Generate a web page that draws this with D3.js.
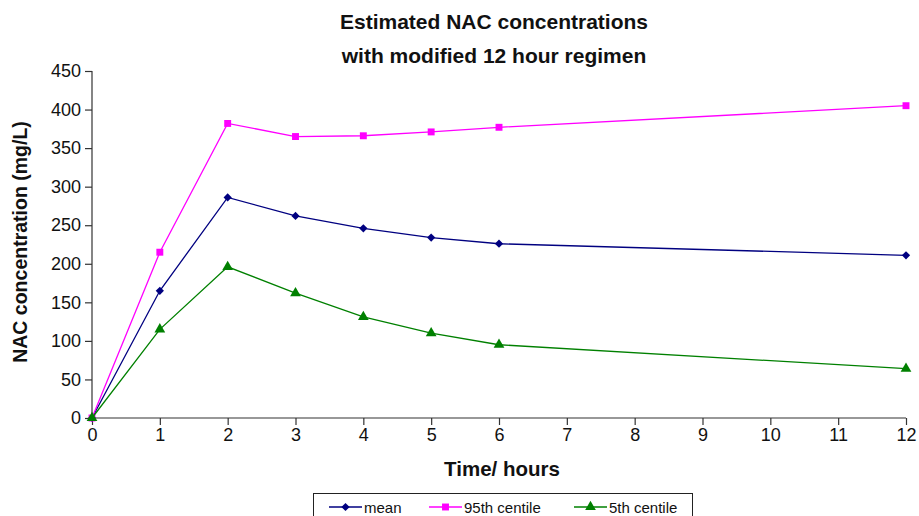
<!DOCTYPE html>
<html>
<head>
<meta charset="utf-8">
<script src="https://cdn.jsdelivr.net/npm/d3@7"></script>
<style>
  body { margin: 0; background: #fff; }
  svg text { font-family: "Liberation Sans", Arial, sans-serif; }
</style>
</head>
<body>
<div id="chart"></div>
<script>
const hours = [0, 1, 2, 3, 4, 5, 6, 12];
const meanValues = [0, 165, 286, 262, 246, 234, 226, 211];
const p95Values = [0, 215, 382, 365, 366, 371, 377, 405];
const p5Values = [0, 115, 196, 162, 131, 110, 95, 64];
const xTicks = [0, 1, 2, 3, 4, 5, 6, 7, 8, 9, 10, 11, 12];
const yTicks = [0, 50, 100, 150, 200, 250, 300, 350, 400, 450];

const series = [
    { name: "mean", values: meanValues, color: "#000080", symbol: d3.symbolSquare, size: 34, rot: 45 },
    { name: "95th centile", values: p95Values, color: "#ff00ff", symbol: d3.symbolSquare, size: 48, rot: 0 },
    { name: "5th centile", values: p5Values, color: "#008000", symbol: d3.symbolTriangle, size: 50, rot: 0 }
];

const width = 919, height = 516;
const margin = { left: 92, right: 13, top: 71, bottom: 98 };

const svg = d3.select("#chart").append("svg")
    .attr("width", width)
    .attr("height", height);

const x = d3.scaleLinear().domain([0, 12]).range([margin.left, width - margin.right]);
const y = d3.scaleLinear().domain([0, 450]).range([height - margin.bottom, margin.top]);

// axes
const xAxis = svg.append("g")
    .attr("transform", `translate(0,${y(0)})`)
    .call(d3.axisBottom(x).tickValues(xTicks).tickSize(7).tickPadding(3).tickFormat(d3.format("d")));
const yAxis = svg.append("g")
    .attr("transform", `translate(${x(0)},0)`)
    .call(d3.axisLeft(y).tickValues(yTicks).tickSize(7).tickPadding(4));

[xAxis, yAxis].forEach(a => {
    a.selectAll("path, line").attr("stroke", "#333").attr("stroke-width", 1.2);
    a.selectAll("text").attr("fill", "#111").style("font-size", "18px");
});
xAxis.select(".domain").attr("d", `M${x(0)},0H${x(12)}`);
yAxis.select(".domain").attr("d", `M0,${y(450)}V${y(0)}`);

// lines and markers
const line = d3.line().x((d, i) => x(hours[i])).y(d => y(d));

series.forEach(s => {
    svg.append("path")
        .datum(s.values)
        .attr("fill", "none")
        .attr("stroke", s.color)
        .attr("stroke-width", 1.3)
        .attr("d", line);

    svg.selectAll(null)
        .data(s.values)
        .enter()
        .append("path")
        .attr("transform", (d, i) => `translate(${x(hours[i])},${y(d)}) rotate(${s.rot})`)
        .attr("d", d3.symbol().type(s.symbol).size(s.size))
        .attr("fill", s.color);
});

// titles
const boldText = (sel, size) => sel
    .attr("text-anchor", "middle")
    .style("font-weight", "bold")
    .style("font-size", size + "px")
    .attr("fill", "#111");

const title = svg.append("text").call(boldText, 21);
title.append("tspan").attr("x", 494).attr("y", 29).text("Estimated NAC concentrations");
title.append("tspan").attr("x", 494).attr("y", 63).text("with modified 12 hour regimen");

svg.append("text")
    .attr("x", 502)
    .attr("y", 476)
    .call(boldText, 20.5)
    .text("Time/ hours");

svg.append("text")
    .attr("transform", "translate(27,242) rotate(-90)")
    .call(boldText, 19.5)
    .text("NAC concentration (mg/L)");

// legend
const legend = svg.append("g");
legend.append("rect")
    .attr("x", 313.5).attr("y", 493.5)
    .attr("width", 379).attr("height", 30)
    .attr("fill", "#fff").attr("stroke", "#222").attr("stroke-width", 1);

const legendX = [329, 429, 574];
series.forEach((s, i) => {
    const g = legend.append("g").attr("transform", `translate(${legendX[i]},507)`);
    g.append("line").attr("x1", 0).attr("x2", 33).attr("stroke", s.color).attr("stroke-width", 1.3);
    g.append("path").attr("transform", `translate(16.5,0) rotate(${s.rot})`)
        .attr("d", d3.symbol().type(s.symbol).size(s.size)).attr("fill", s.color);
    g.append("text").attr("x", 35).attr("y", 5.5)
        .style("font-size", "15px").attr("fill", "#111").text(s.name);
});
</script>
</body>
</html>
